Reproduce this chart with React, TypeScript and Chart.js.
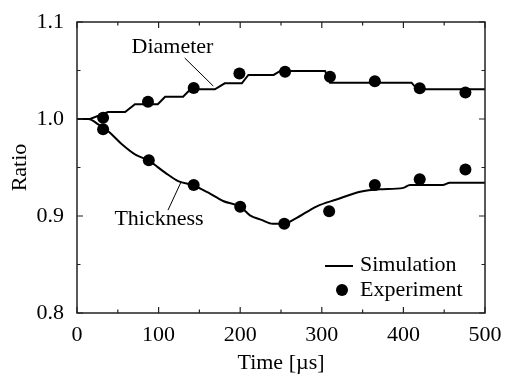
import React, { useEffect, useRef } from "react";
import { Chart, registerables } from "chart.js";

Chart.register(...registerables);

const xTickValues = [0, 100, 200, 300, 400, 500];
const yTickValues = [0.8, 0.9, 1.0, 1.1];
const xMinorValues = [50, 150, 250, 350, 450];
const yMinorValues = [0.85, 0.95, 1.05];

const diameterSimTime = [0, 16, 38, 59, 71, 99, 108, 130, 139, 169, 181, 202, 210, 241, 249, 304, 310, 410, 417, 500];
const diameterSimRatio = [1.0, 1.0, 1.0072, 1.0072, 1.0152, 1.0152, 1.023, 1.023, 1.0306, 1.0306, 1.0368, 1.0368, 1.0454, 1.0454, 1.0495, 1.0495, 1.0375, 1.0375, 1.0306, 1.0306];

const thicknessSimTime = [0, 14, 26, 38, 55, 71, 88, 108, 124, 143, 161, 179, 200, 212, 226, 240, 253, 267, 294, 318, 347, 371, 400, 408, 448, 457, 500];
const thicknessSimRatio = [1.0, 1.0, 0.9945, 0.9876, 0.974, 0.9636, 0.957, 0.9447, 0.936, 0.9315, 0.924, 0.9155, 0.9096, 0.9007, 0.896, 0.892, 0.892, 0.897, 0.91, 0.917, 0.925, 0.9275, 0.929, 0.932, 0.932, 0.9343, 0.9343];

const diameterExpTime = [32, 87, 143, 199, 255, 310, 365, 420, 476];
const diameterExpRatio = [1.0013, 1.0178, 1.032, 1.047, 1.0488, 1.0436, 1.039, 1.0316, 1.0272];

const thicknessExpTime = [32, 88, 143, 200, 254, 309, 365, 420, 476];
const thicknessExpRatio = [0.9894, 0.9574, 0.932, 0.9096, 0.892, 0.905, 0.932, 0.938, 0.948];

const FONT = "\"Liberation Serif\"";
const FS = 22;

const toPts = (xs: number[], ys: number[]) => xs.map((x, i) => ({ x, y: ys[i] }));

const decorPlugin = {
  id: "decor",
  afterDraw(chart: any) {
    const ctx = chart.ctx;
    const { left, right, top, bottom } = chart.chartArea;
    const xs = chart.scales.x;
    const ys = chart.scales.y;
    ctx.save();
    ctx.strokeStyle = "#222";
    ctx.lineWidth = 1.5;
    ctx.strokeRect(left, top, right - left, bottom - top);
    ctx.lineWidth = 1.2;
    const major = 6;
    const minor = 3.5;
    const vt = (v: number, len: number) => {
      const px = xs.getPixelForValue(v);
      ctx.beginPath();
      ctx.moveTo(px, bottom);
      ctx.lineTo(px, bottom - len);
      ctx.moveTo(px, top);
      ctx.lineTo(px, top + len);
      ctx.stroke();
    };
    const ht = (v: number, len: number) => {
      const py = ys.getPixelForValue(v);
      ctx.beginPath();
      ctx.moveTo(left, py);
      ctx.lineTo(left + len, py);
      ctx.moveTo(right, py);
      ctx.lineTo(right - len, py);
      ctx.stroke();
    };
    xTickValues.forEach((v) => vt(v, major));
    xMinorValues.forEach((v) => vt(v, minor));
    yTickValues.forEach((v) => ht(v, major));
    yMinorValues.forEach((v) => ht(v, minor));

    ctx.fillStyle = "#000";
    ctx.strokeStyle = "#000";
    ctx.font = `${FS}px ${FONT}`;
    ctx.textBaseline = "middle";
    ctx.textAlign = "center";
    ctx.fillText("Diameter", xs.getPixelForValue(117), ys.getPixelForValue(1.074));
    ctx.fillText("Thickness", xs.getPixelForValue(100.5), ys.getPixelForValue(0.897));
    ctx.lineWidth = 1;
    ctx.beginPath();
    ctx.moveTo(xs.getPixelForValue(132), ys.getPixelForValue(1.0629));
    ctx.lineTo(xs.getPixelForValue(167), ys.getPixelForValue(1.034));
    ctx.moveTo(xs.getPixelForValue(111.5), ys.getPixelForValue(0.906));
    ctx.lineTo(xs.getPixelForValue(127.5), ys.getPixelForValue(0.935));
    ctx.stroke();

    ctx.lineWidth = 2;
    ctx.beginPath();
    ctx.moveTo(right - 160, bottom - 47);
    ctx.lineTo(right - 132, bottom - 47);
    ctx.stroke();
    ctx.beginPath();
    ctx.arc(right - 143, bottom - 23, 6, 0, Math.PI * 2);
    ctx.fill();
    ctx.textAlign = "left";
    ctx.fillText("Simulation", right - 125, bottom - 48);
    ctx.fillText("Experiment", right - 125, bottom - 23);
    ctx.restore();
  },
};

function makeChart(canvas: HTMLCanvasElement) {
  return new Chart(canvas, {
    type: "scatter",
    data: {
      datasets: [
        {
          label: "Diameter experiment",
          data: toPts(diameterExpTime, diameterExpRatio),
          pointRadius: 6,
          pointBackgroundColor: "#000",
          pointBorderWidth: 0,
          showLine: false,
        },
        {
          label: "Thickness experiment",
          data: toPts(thicknessExpTime, thicknessExpRatio),
          pointRadius: 6,
          pointBackgroundColor: "#000",
          pointBorderWidth: 0,
          showLine: false,
        },
        {
          label: "Diameter simulation",
          data: toPts(diameterSimTime, diameterSimRatio),
          showLine: true,
          pointRadius: 0,
          borderColor: "#000",
          borderWidth: 2,
          tension: 0,
        },
        {
          label: "Thickness simulation",
          data: toPts(thicknessSimTime, thicknessSimRatio),
          showLine: true,
          pointRadius: 0,
          borderColor: "#000",
          borderWidth: 2,
          cubicInterpolationMode: "monotone",
        },
      ],
    },
    options: {
      responsive: false,
      animation: false,
      devicePixelRatio: 1,
      font: { family: FONT },
      layout: { padding: { left: 0, right: 20, top: 22, bottom: 0 } },
      plugins: { legend: { display: false }, tooltip: { enabled: false } },
      scales: {
        x: {
          type: "linear",
          min: 0,
          max: 500,
          afterBuildTicks: (s: any) => {
            s.ticks = xTickValues.map((v) => ({ value: v }));
          },
          afterFit: (s: any) => {
            s.height = 61;
          },
          ticks: {
            color: "#000",
            font: { family: FONT, size: FS, lineHeight: 1 },
            padding: 3,
            maxRotation: 0,
            callback: (v: any) => String(v),
          },
          grid: { display: false },
          border: { display: false },
          title: {
            display: true,
            text: "Time [µs]",
            color: "#000",
            font: { family: FONT, size: FS, lineHeight: 1 },
            padding: { top: 0, bottom: 0 },
          },
        },
        y: {
          type: "linear",
          min: 0.8,
          max: 1.1,
          afterBuildTicks: (s: any) => {
            s.ticks = yTickValues.map((v) => ({ value: v }));
          },
          afterFit: (s: any) => {
            s.width = 77;
          },
          ticks: {
            color: "#000",
            font: { family: FONT, size: FS, lineHeight: 1 },
            padding: 5,
            callback: (v: any) => Number(v).toFixed(1),
          },
          grid: { display: false },
          border: { display: false },
          title: {
            display: true,
            text: "Ratio",
            color: "#000",
            font: { family: FONT, size: FS, lineHeight: 1 },
            padding: { top: 9, bottom: 0 },
          },
        },
      },
    },
    plugins: [decorPlugin],
  } as any);
}

export default function App() {
  const ref = useRef<HTMLCanvasElement | null>(null);
  useEffect(() => {
    if (!ref.current) return;
    const canvas = ref.current;
    let chart: any = makeChart(canvas);
    let cancelled = false;
    const fonts: any = (document as any).fonts;
    if (fonts && fonts.load) {
      fonts
        .load(`${FS}px ${FONT}`)
        .then(() => fonts.ready)
        .then(() => {
          if (cancelled) return;
          chart.destroy();
          chart = makeChart(canvas);
        })
        .catch(() => {});
    }
    return () => {
      cancelled = true;
      chart.destroy();
    };
  }, []);
  return (
    <div style={{ position: "fixed", left: 0, top: 0, width: 505, height: 374, background: "#fff", fontFamily: "Liberation Serif" }}>
      <span style={{ position: "absolute", left: 0, top: 0, fontSize: FS, opacity: 0, pointerEvents: "none" }}>Ratio 0.9</span>
      <canvas ref={ref} width={505} height={374} style={{ position: "absolute", left: 0, top: 0 }} />
    </div>
  );
}
